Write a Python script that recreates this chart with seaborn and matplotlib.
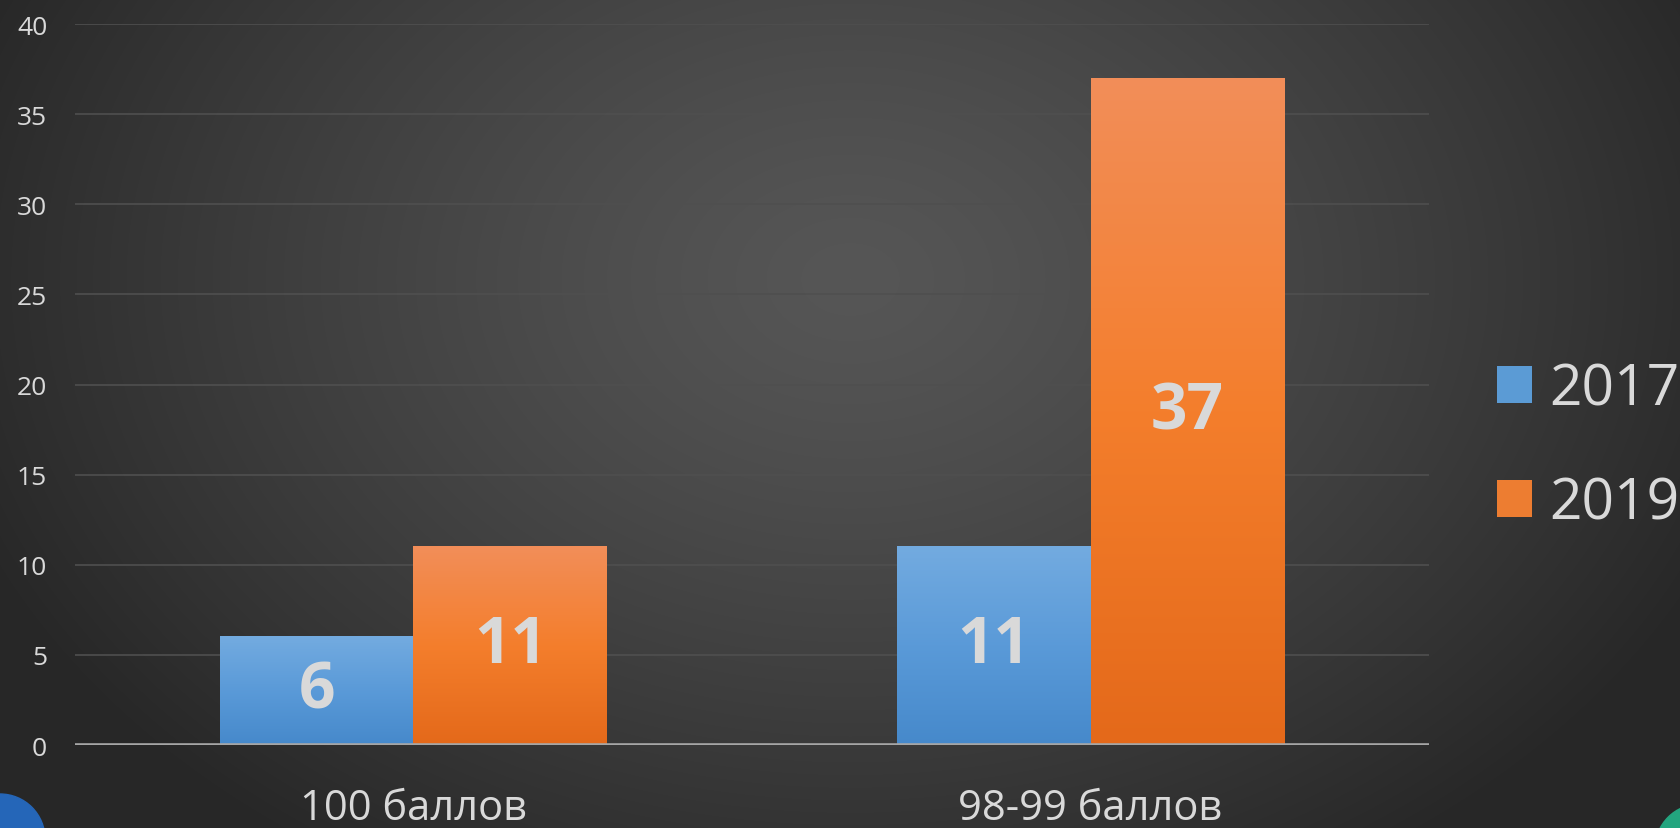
import numpy as np
import pandas as pd
import matplotlib
matplotlib.use('Agg')
import matplotlib.pyplot as plt
import seaborn as sns
from matplotlib.patches import Patch, Circle
from matplotlib.colors import to_rgb

categories = ['100 баллов', '98-99 баллов']
years = ['2017', '2019']
values_2017 = [6, 11]
values_2019 = [11, 37]
yticks = [0, 5, 10, 15, 20, 25, 30, 35, 40]

df = pd.DataFrame({
    'cat': categories * 2,
    'year': [years[0]] * 2 + [years[1]] * 2,
    'val': values_2017 + values_2019,
})

sns.set_style('dark')
plt.rcParams['font.family'] = ['Open Sans', 'DejaVu Sans']

fig = plt.figure(figsize=(16.81, 8.29), dpi=100)

# dark radial background
bg = fig.add_axes([0, 0, 1, 1], zorder=0)
h, w = 829, 1681
yy, xx = np.mgrid[0:h, 0:w]
d = np.sqrt(((xx - 850) / 950.0) ** 2 + ((yy - 280) / 700.0) ** 2)
t = np.clip(d, 0, 1)[..., None] ** 1.3
c0 = np.array(to_rgb('#565656'))
c1 = np.array(to_rgb('#272727'))
bg.imshow(c0 * (1 - t) + c1 * t, aspect='auto', extent=[0, 1, 0, 1])
bg.axis('off')

ax = fig.add_axes([0.0446, 0.1001, 0.8055, 0.8697], zorder=1)
ax.set_facecolor('none')

sns.barplot(data=df, x='cat', y='val', hue='year', palette=['#5b9bd5', '#ed7d31'],
            width=0.573, gap=0, saturation=1, legend=False, linewidth=0, ax=ax)

# vertical gradient fill on each bar
grads = {'2017': ['#73abe0', '#5a9ad8', '#4689cb'],
         '2019': ['#f28e59', '#f47e2c', '#e4691a']}
vals = {'2017': values_2017, '2019': values_2019}
for cont, yr in zip(ax.containers, years):
    stops = np.array([to_rgb(c) for c in grads[yr]])
    g = np.linspace(0, 1, 256)
    arr = np.stack([np.interp(g, [0, 0.5, 1], stops[:, k]) for k in range(3)], axis=-1)[:, None, :]
    for p in cont:
        x0, y0 = p.get_x(), p.get_y()
        bw, bh = p.get_width(), p.get_height()
        ax.imshow(arr, extent=[x0, x0 + bw, y0, y0 + bh], aspect='auto', origin='upper', zorder=2)
        p.set_facecolor('none')
    ax.bar_label(cont, labels=[str(v) for v in vals[yr]], label_type='center',
                 fontsize=46, fontweight='bold', color='#d9d9d9', zorder=4)

ax.set_xlim(-0.5, 1.5)
ax.set_ylim(0, 40)
ax.set_yticks(yticks)
ax.yaxis.grid(True, color='#4f4f4f', lw=1.2)
ax.xaxis.grid(False)
ax.set_axisbelow(True)
ax.axhline(0, color='#a6a6a6', lw=2.6, zorder=3)
for s in ax.spines.values():
    s.set_visible(False)
ax.set_xlabel('')
ax.set_ylabel('')
ax.tick_params(axis='y', length=0, labelsize=19, labelcolor='#d9d9d9', pad=20)
ax.tick_params(axis='x', length=0, labelsize=30, labelcolor='#d9d9d9', pad=30)

handles = [Patch(facecolor='#5b9bd5', edgecolor='none'),
           Patch(facecolor='#ed7d31', edgecolor='none')]
fig.legend(handles, years, loc='center left', bbox_to_anchor=(0.8905, 0.4596),
           frameon=False, fontsize=41, labelcolor='#d9d9d9', handlelength=0.62,
           handleheight=0.62, handletextpad=0.3, labelspacing=1.0,
           borderpad=0, borderaxespad=0)

# decorative balls in the corners
fig.add_artist(Circle((0.0, -0.11), 0.45, transform=fig.dpi_scale_trans, color='#2566b8'))
fig.add_artist(Circle((17.0, -0.21), 0.45, transform=fig.dpi_scale_trans, color='#23a57f'))

fig.savefig('out.png', dpi=100)
